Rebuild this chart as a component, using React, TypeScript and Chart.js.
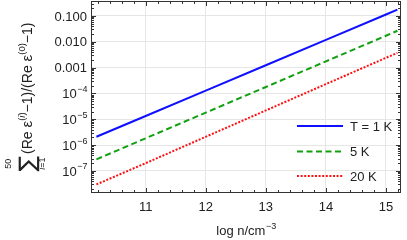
import React, { useEffect, useRef } from "react";
import { Chart, registerables } from "chart.js";

Chart.register(...registerables);

// ---- data ----
const xValues = [10.18, 11, 12, 13, 14, 15, 15.19];
const seriesT1 = [2.1e-6, 1.34e-5, 1.29e-4, 1.24e-3, 0.0119, 0.114, 0.175];
const seriesT5 = [2.8e-7, 1.84e-6, 1.81e-5, 1.78e-4, 1.75e-3, 0.0172, 0.0267];
const seriesT20 = [3.0e-8, 2.0e-7, 2.1e-6, 2.2e-5, 2.3e-4, 2.4e-3, 0.0037];
const seriesLabels = ["T = 1 K", "5 K", "20 K"];
const seriesColors = ["#1010ff", "#10a010", "#ff1010"];
const seriesDashes: number[][] = [[], [6, 3.5], [2, 1.6]];

const xTicks = [11, 12, 13, 14, 15];
const xTickLabels = ["11", "12", "13", "14", "15"];
const yTicks = [1e-7, 1e-6, 1e-5, 1e-4, 1e-3, 1e-2, 1e-1];
const yTickBase = ["10", "10", "10", "10", "0.001", "0.010", "0.100"];
const yTickExp = ["−7", "−6", "−5", "−4", "", "", ""];

const X_MIN = 10.09;
const X_MAX = 15.25;
const Y_MIN = 1.4e-8;
const Y_MAX = 0.38;

const FONT = "'Liberation Sans', Arial, sans-serif";
const TEXT = "#222";
const AXIS = "#333";

const decorPlugin = {
  id: "decor",
  afterDraw(chart: any) {
    const ctx: CanvasRenderingContext2D = chart.ctx;
    const a = chart.chartArea;
    const xs = chart.scales.x;
    const ys = chart.scales.y;
    ctx.save();

    // frame
    ctx.strokeStyle = AXIS;
    ctx.lineWidth = 1;
    ctx.strokeRect(a.left + 0.5, a.top + 0.5, a.right - a.left - 1, a.bottom - a.top - 1);

    // x ticks (major + minor, inward, top & bottom)
    ctx.beginPath();
    for (let v = 10.2; v <= X_MAX + 1e-9; v += 0.2) {
      const vr = Math.round(v * 10) / 10;
      if (vr < X_MIN) continue;
      const px = Math.round(xs.getPixelForValue(vr)) + 0.5;
      const major = Math.abs(vr - Math.round(vr)) < 1e-6;
      const len = major ? 5 : 3;
      ctx.moveTo(px, a.bottom);
      ctx.lineTo(px, a.bottom - len);
      ctx.moveTo(px, a.top);
      ctx.lineTo(px, a.top + len);
    }
    // y ticks
    for (let d = -9; d <= 0; d++) {
      for (let k = 1; k <= 9; k++) {
        const v = k * Math.pow(10, d);
        if (v < Y_MIN || v > Y_MAX) continue;
        const py = Math.round(ys.getPixelForValue(v)) + 0.5;
        const len = k === 1 ? 5 : 3;
        ctx.moveTo(a.left, py);
        ctx.lineTo(a.left + len, py);
        ctx.moveTo(a.right, py);
        ctx.lineTo(a.right - len, py);
      }
    }
    ctx.stroke();

    // x tick labels
    ctx.fillStyle = TEXT;
    ctx.font = `13px ${FONT}`;
    ctx.textAlign = "center";
    ctx.textBaseline = "top";
    xTicks.forEach((v, i) => {
      ctx.fillText(xTickLabels[i], xs.getPixelForValue(v), a.bottom + 8);
    });

    // y tick labels
    ctx.textAlign = "left";
    ctx.textBaseline = "middle";
    const rightEdge = a.left - 4;
    yTicks.forEach((v, i) => {
      const py = ys.getPixelForValue(v);
      ctx.font = `13px ${FONT}`;
      const bw = ctx.measureText(yTickBase[i]).width;
      let ew = 0;
      if (yTickExp[i]) {
        ctx.font = `9px ${FONT}`;
        ew = ctx.measureText(yTickExp[i]).width;
      }
      const x0 = rightEdge - bw - ew;
      ctx.font = `13px ${FONT}`;
      ctx.fillText(yTickBase[i], x0, py + 1);
      if (yTickExp[i]) {
        ctx.font = `9px ${FONT}`;
        ctx.fillText(yTickExp[i], x0 + bw + 0.5, py - 4);
      }
    });

    // x title
    ctx.textBaseline = "alphabetic";
    ctx.font = `13px ${FONT}`;
    const t1 = "log n/cm";
    const w1 = ctx.measureText(t1).width;
    ctx.font = `9px ${FONT}`;
    const t2 = "−3";
    const w2 = ctx.measureText(t2).width;
    const cx = (a.left + a.right) / 2;
    const xs0 = cx - (w1 + w2) / 2;
    ctx.font = `13px ${FONT}`;
    ctx.fillText(t1, xs0, 235);
    ctx.font = `9px ${FONT}`;
    ctx.fillText(t2, xs0 + w1 + 0.5, 229);

    // y title (rotated)
    const parts: { t: string; f: string; dy: number }[] = [
      { t: "(Re ", f: `14px ${FONT}`, dy: 0 },
      { t: "ε", f: `15px ${FONT}`, dy: 0 },
      { t: "(", f: `9.5px ${FONT}`, dy: -7 },
      { t: "i", f: `italic 9.5px ${FONT}`, dy: -7 },
      { t: ")", f: `9.5px ${FONT}`, dy: -7 },
      { t: "−1)/(Re ", f: `14px ${FONT}`, dy: 0 },
      { t: "ε", f: `15px ${FONT}`, dy: 0 },
      { t: "(0)", f: `9.5px ${FONT}`, dy: -7 },
      { t: "−1)", f: `14px ${FONT}`, dy: 0 },
    ];
    const sumFont = `23px 'DejaVu Sans', ${FONT}`;
    ctx.font = sumFont;
    const sumW = ctx.measureText("∑").width;
    let textW = 0;
    parts.forEach((p) => {
      ctx.font = p.f;
      textW += ctx.measureText(p.t).width;
    });
    const gap = 2;
    const totalW = sumW + gap + textW;
    const centerY = 97;
    const baseX = 32;
    ctx.translate(baseX, centerY);
    ctx.rotate(-Math.PI / 2);
    let lx = -totalW / 2;
    // sum
    ctx.font = sumFont;
    ctx.textAlign = "left";
    ctx.fillText("∑", lx, 3);
    ctx.textAlign = "center";
    ctx.font = `9px ${FONT}`;
    ctx.fillText("50", lx + sumW / 2, -21);
    ctx.font = `italic 9px ${FONT}`;
    const iw = ctx.measureText("i").width;
    ctx.font = `9px ${FONT}`;
    const rw = ctx.measureText("=1").width;
    const lStart = lx + sumW / 2 - (iw + rw) / 2;
    ctx.textAlign = "left";
    ctx.font = `italic 9px ${FONT}`;
    ctx.fillText("i", lStart, 13);
    ctx.font = `9px ${FONT}`;
    ctx.fillText("=1", lStart + iw, 13);
    lx += sumW + gap;
    parts.forEach((p) => {
      ctx.font = p.f;
      ctx.fillText(p.t, lx, p.dy);
      lx += ctx.measureText(p.t).width;
    });
    ctx.setTransform(1, 0, 0, 1, 0, 0);

    // legend
    const lx0 = a.right - 104;
    const lx1 = a.right - 58;
    const tx = a.right - 51;
    const rows = [a.bottom - 67, a.bottom - 41.5, a.bottom - 17];
    ctx.textAlign = "left";
    ctx.textBaseline = "middle";
    ctx.font = `13px ${FONT}`;
    seriesLabels.forEach((lab, i) => {
      ctx.strokeStyle = seriesColors[i];
      ctx.lineWidth = 2;
      ctx.setLineDash(seriesDashes[i]);
      ctx.beginPath();
      ctx.moveTo(lx0, rows[i]);
      ctx.lineTo(lx1, rows[i]);
      ctx.stroke();
      ctx.setLineDash([]);
      ctx.fillStyle = TEXT;
      ctx.fillText(lab, tx, rows[i] + 1);
    });

    ctx.restore();
  },
};

export default function App() {
  const ref = useRef<HTMLCanvasElement | null>(null);
  useEffect(() => {
    document.body.style.margin = "0";
    const canvas = ref.current;
    if (!canvas) return;
    const series = [seriesT1, seriesT5, seriesT20];
    const chart = new Chart(canvas, {
      type: "line",
      data: {
        datasets: series.map((s, i) => ({
          label: seriesLabels[i],
          data: xValues.map((x, j) => ({ x, y: s[j] })),
          borderColor: seriesColors[i],
          borderWidth: 2,
          borderDash: seriesDashes[i],
          pointRadius: 0,
          tension: 0,
          fill: false,
        })),
      },
      options: {
        animation: false,
        responsive: false,
        maintainAspectRatio: false,
        layout: { padding: { top: 1, right: 6, left: 0, bottom: 0 } },
        plugins: { legend: { display: false }, tooltip: { enabled: false } },
        scales: {
          x: {
            type: "linear",
            min: X_MIN,
            max: X_MAX,
            afterBuildTicks: (s: any) => {
              s.ticks = xTicks.map((v) => ({ value: v }));
            },
            afterFit: (s: any) => {
              s.height = 47;
            },
            ticks: { display: false },
            border: { display: false },
            grid: { color: "#e6e6e6", drawTicks: false, lineWidth: 1 },
          },
          y: {
            type: "logarithmic",
            min: Y_MIN,
            max: Y_MAX,
            afterBuildTicks: (s: any) => {
              s.ticks = yTicks.map((v) => ({ value: v }));
            },
            afterFit: (s: any) => {
              s.width = 91;
            },
            ticks: { display: false },
            border: { display: false },
            grid: { color: "#e6e6e6", drawTicks: false, lineWidth: 1 },
          },
        },
      } as any,
      plugins: [decorPlugin],
    });
    return () => chart.destroy();
  }, []);
  return <canvas ref={ref} width={407} height={240} style={{ display: "block", width: 407, height: 240 }} />;
}
